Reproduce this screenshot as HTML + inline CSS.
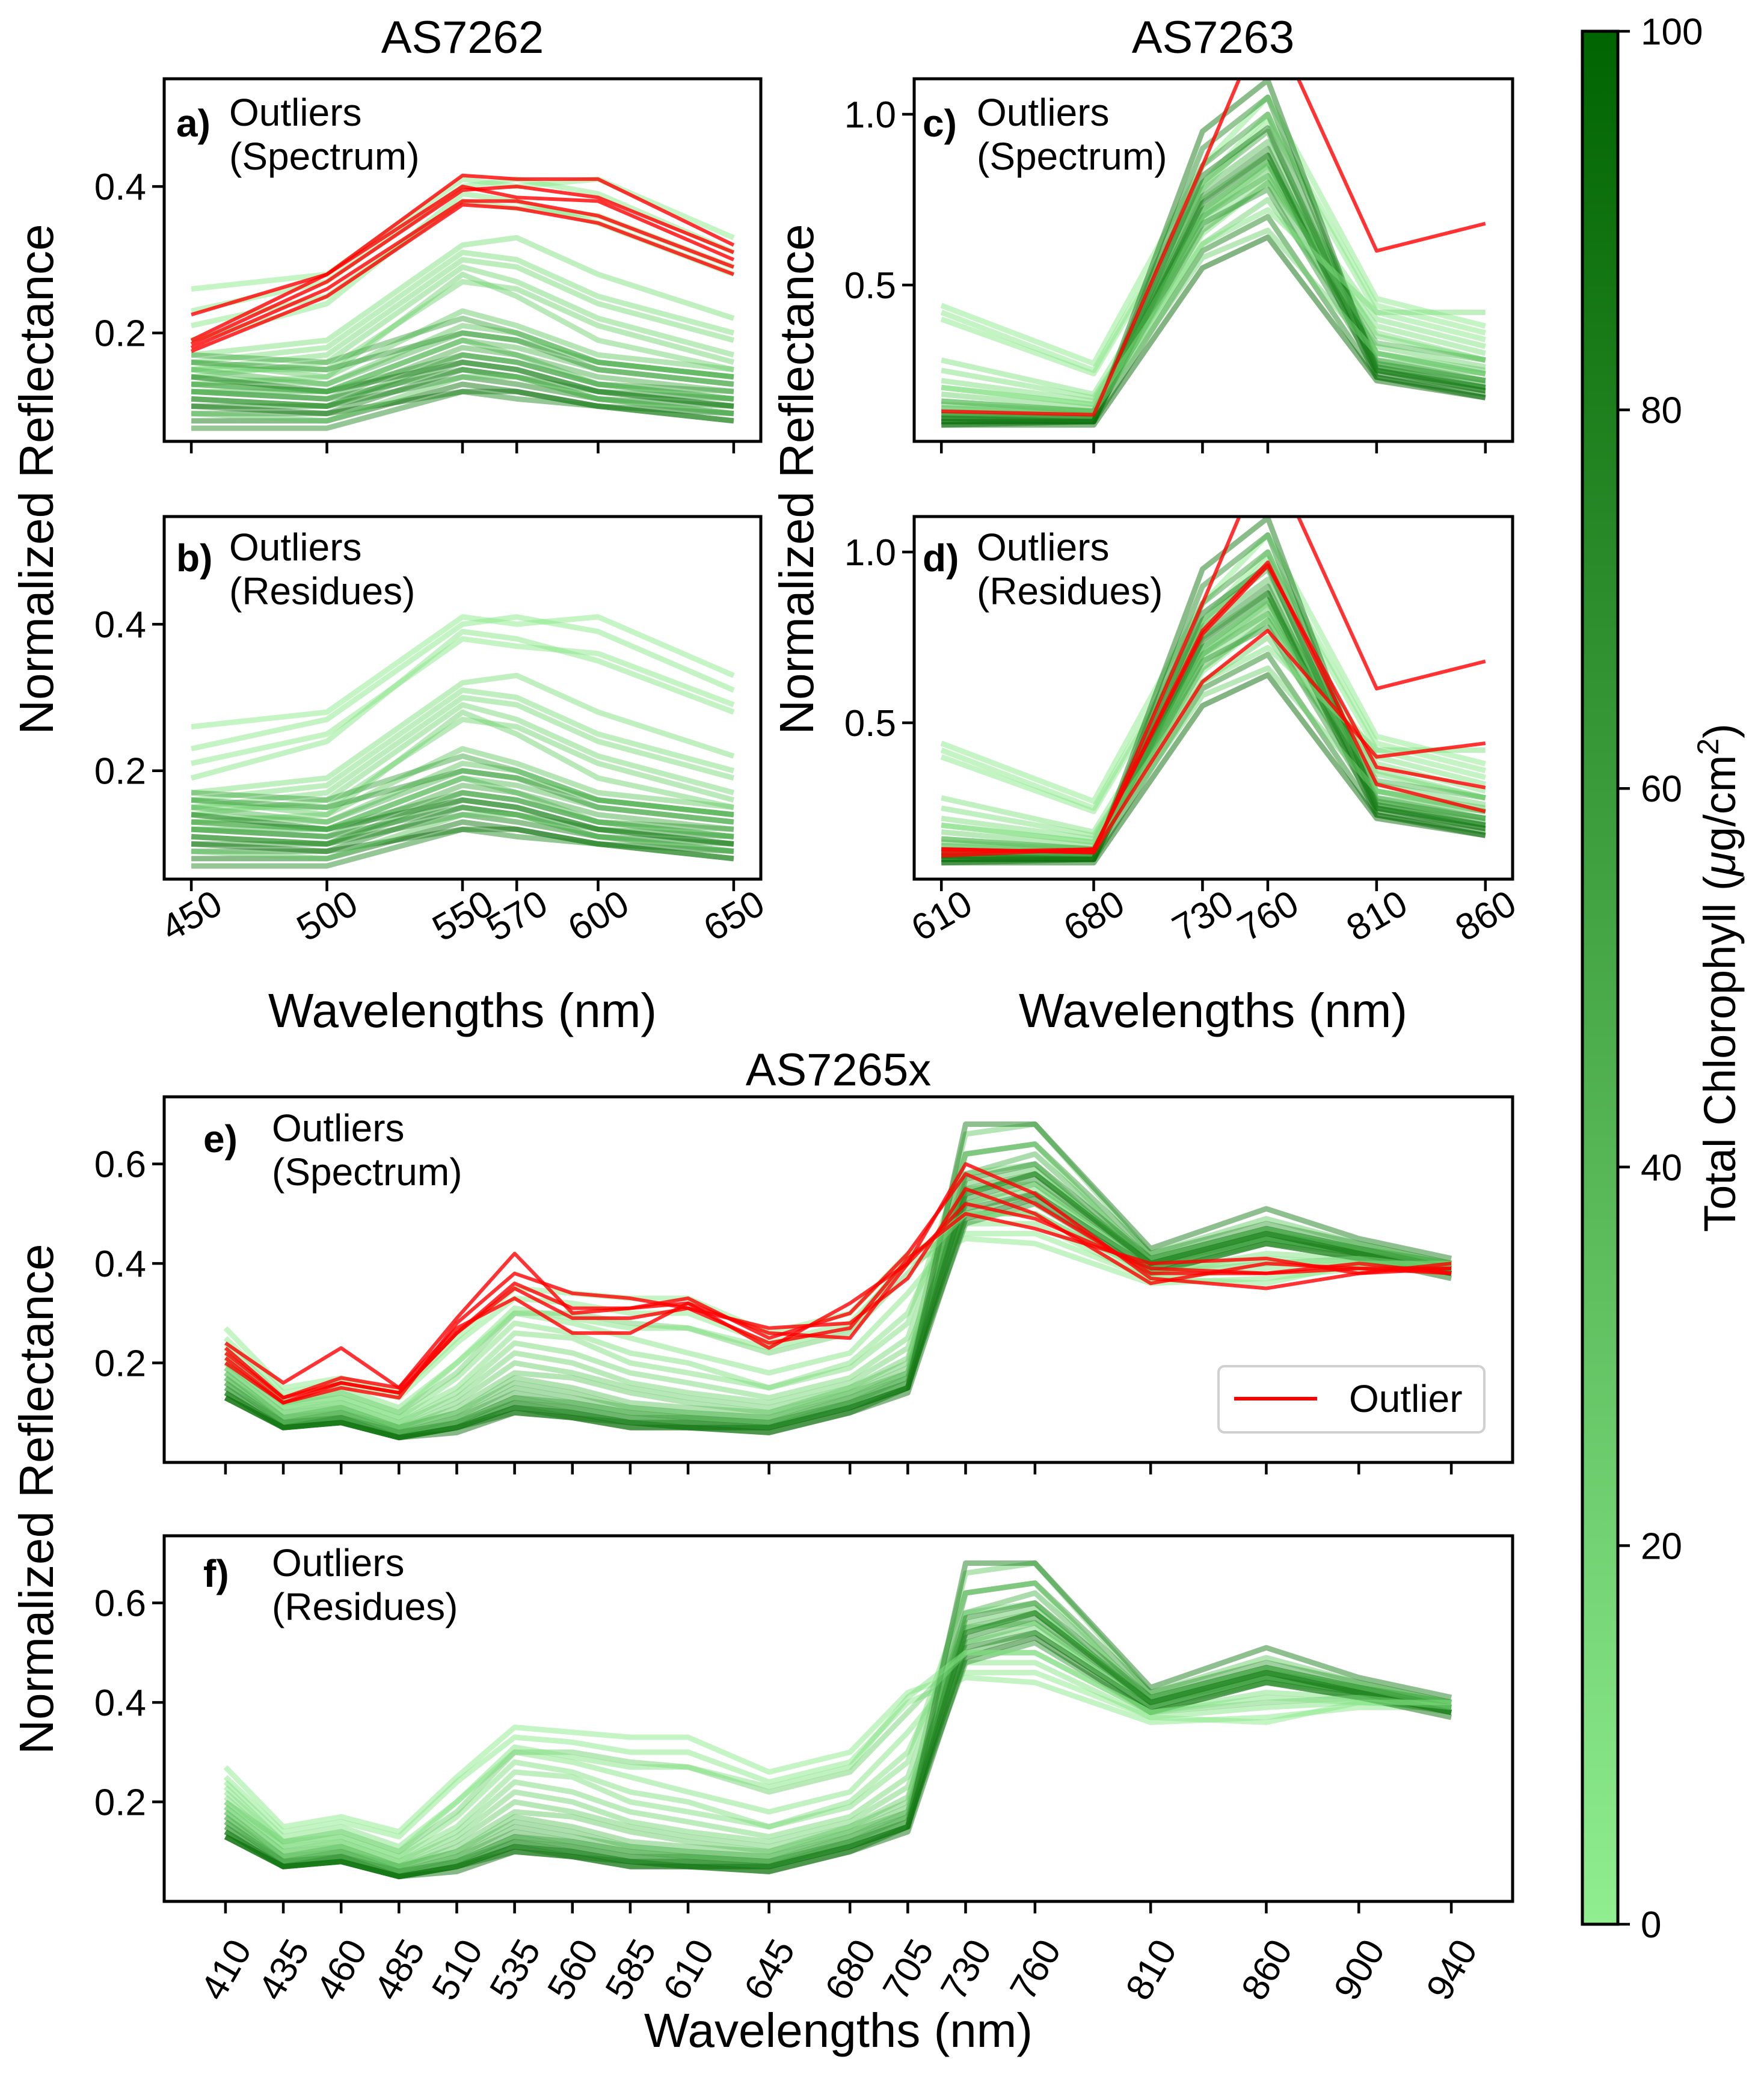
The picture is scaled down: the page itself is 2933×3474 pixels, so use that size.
<!DOCTYPE html>
<html><head><meta charset="utf-8">
<style>
html,body{margin:0;padding:0;background:#fff;}
svg{display:block;font-family:"Liberation Sans",Arial,sans-serif;}
</style></head>
<body>
<svg id="fig" width="2933" height="3474" viewBox="0 0 2933 3474" xmlns="http://www.w3.org/2000/svg">
<defs>
<linearGradient id="cbgrad" x1="0" y1="1" x2="0" y2="0">
<stop offset="0" stop-color="#90ee90"/><stop offset="1" stop-color="#006400"/>
</linearGradient>
</defs>
</svg>
<script>
// ---------- DATA ----------
const wl7262 = [450,500,550,570,600,650];
const wl7263 = [610,680,730,760,810,860];
const wl7265 = [410,435,460,485,510,535,560,585,610,645,680,705,730,760,810,860,900,940];

const chl7262 = [3,4,5,6,10,12,14,16,18,20,25,30,35,40,45,50,55,60,65,70,75,80,85,90,60,50,40,30,70];
const spec7262 = [
[0.26,0.28,0.41,0.40,0.41,0.33],[0.23,0.27,0.40,0.41,0.39,0.31],[0.21,0.25,0.38,0.37,0.36,0.29],
[0.19,0.24,0.39,0.38,0.35,0.28],[0.17,0.19,0.32,0.33,0.28,0.22],[0.16,0.18,0.31,0.30,0.25,0.20],
[0.15,0.17,0.30,0.29,0.24,0.19],[0.14,0.16,0.29,0.27,0.22,0.17],[0.15,0.15,0.27,0.26,0.21,0.16],
[0.13,0.14,0.28,0.25,0.19,0.15],[0.16,0.14,0.23,0.21,0.17,0.15],[0.14,0.13,0.21,0.20,0.16,0.14],
[0.13,0.12,0.19,0.18,0.15,0.13],[0.15,0.13,0.20,0.19,0.16,0.14],[0.12,0.11,0.18,0.17,0.14,0.12],
[0.11,0.10,0.17,0.16,0.13,0.11],[0.13,0.12,0.17,0.16,0.13,0.12],[0.10,0.10,0.16,0.15,0.12,0.10],
[0.12,0.11,0.15,0.14,0.12,0.11],[0.09,0.09,0.15,0.14,0.11,0.10],[0.11,0.10,0.14,0.13,0.11,0.09],
[0.14,0.12,0.16,0.15,0.12,0.10],[0.08,0.08,0.13,0.12,0.10,0.09],[0.10,0.09,0.12,0.12,0.10,0.08],
[0.16,0.15,0.20,0.19,0.15,0.13],[0.17,0.16,0.22,0.20,0.16,0.14],[0.12,0.12,0.19,0.17,0.13,0.11],
[0.09,0.08,0.14,0.14,0.11,0.09],[0.07,0.07,0.12,0.11,0.10,0.08]];
const out7262Spectrum = [
[0.225,0.28,0.415,0.41,0.41,0.32],[0.19,0.28,0.40,0.385,0.38,0.30],[0.18,0.26,0.38,0.38,0.36,0.29],
[0.175,0.25,0.375,0.37,0.35,0.28],[0.185,0.27,0.395,0.40,0.385,0.31]];
const out7262Residues = [];

const chl7263 = [3,4,5,8,10,12,15,20,25,30,35,40,45,50,55,60,65,70,75,80,85,90,95,20,40,10];
const spec7263 = [
[0.44,0.27,0.85,1.05,0.46,0.38],[0.42,0.25,0.80,1.00,0.44,0.36],[0.40,0.24,0.78,0.98,0.42,0.34],
[0.28,0.18,0.70,0.85,0.40,0.32],[0.25,0.17,0.65,0.80,0.38,0.30],[0.22,0.16,0.68,0.82,0.36,0.28],
[0.20,0.15,0.72,0.86,0.35,0.28],[0.18,0.14,0.62,0.75,0.32,0.26],[0.16,0.13,0.75,0.88,0.30,0.25],
[0.15,0.13,0.70,0.84,0.28,0.24],[0.14,0.12,0.78,0.92,0.30,0.24],[0.13,0.12,0.66,0.80,0.27,0.22],
[0.12,0.11,0.80,0.95,0.28,0.22],[0.12,0.11,0.72,0.86,0.26,0.21],[0.11,0.11,0.85,1.00,0.27,0.22],
[0.12,0.11,0.68,0.78,0.25,0.20],[0.10,0.10,0.76,0.90,0.25,0.20],[0.11,0.10,0.90,1.05,0.26,0.20],
[0.10,0.10,0.60,0.70,0.23,0.18],[0.11,0.10,0.82,0.96,0.24,0.19],[0.09,0.10,0.95,1.10,0.25,0.19],
[0.10,0.10,0.74,0.88,0.23,0.17],[0.09,0.09,0.55,0.64,0.22,0.17],[0.14,0.13,0.58,0.66,0.30,0.24],
[0.16,0.13,0.70,0.82,0.33,0.28],[0.20,0.15,0.62,0.72,0.42,0.42]];
const out7263Spectrum = [[0.13,0.12,0.85,1.30,0.60,0.68]];
const out7263Residues = [[0.13,0.12,0.85,1.30,0.60,0.68],[0.11,0.13,0.77,0.97,0.32,0.24],
[0.13,0.12,0.62,0.77,0.40,0.44],[0.12,0.13,0.76,0.96,0.37,0.31]];

const chl7265 = [3,5,7,10,12,15,18,22,26,30,35,40,45,50,55,60,65,70,75,80,85,90,20,8];
const spec7265 = [
[0.27,0.15,0.17,0.14,0.25,0.35,0.34,0.33,0.33,0.26,0.30,0.42,0.46,0.46,0.37,0.36,0.40,0.40],
[0.25,0.14,0.16,0.13,0.24,0.33,0.32,0.30,0.30,0.24,0.28,0.40,0.45,0.44,0.36,0.37,0.39,0.39],
[0.23,0.12,0.14,0.10,0.20,0.30,0.28,0.25,0.22,0.18,0.22,0.34,0.48,0.48,0.37,0.39,0.40,0.39],
[0.22,0.12,0.13,0.09,0.17,0.28,0.26,0.22,0.20,0.15,0.20,0.30,0.55,0.56,0.38,0.42,0.41,0.39],
[0.21,0.11,0.13,0.09,0.15,0.26,0.25,0.20,0.18,0.15,0.19,0.28,0.62,0.64,0.40,0.45,0.42,0.40],
[0.20,0.11,0.12,0.08,0.14,0.24,0.22,0.18,0.16,0.13,0.17,0.25,0.58,0.60,0.39,0.44,0.42,0.39],
[0.19,0.10,0.12,0.08,0.13,0.22,0.20,0.16,0.14,0.12,0.16,0.23,0.52,0.55,0.40,0.46,0.43,0.40],
[0.19,0.10,0.11,0.07,0.12,0.20,0.18,0.15,0.13,0.11,0.15,0.21,0.54,0.58,0.41,0.47,0.43,0.40],
[0.18,0.09,0.11,0.07,0.11,0.18,0.17,0.14,0.12,0.10,0.15,0.20,0.66,0.68,0.42,0.49,0.44,0.40],
[0.18,0.09,0.11,0.07,0.10,0.17,0.15,0.12,0.11,0.10,0.14,0.19,0.56,0.59,0.40,0.45,0.42,0.39],
[0.17,0.09,0.10,0.07,0.10,0.16,0.14,0.11,0.10,0.09,0.14,0.18,0.52,0.56,0.40,0.46,0.43,0.39],
[0.17,0.08,0.10,0.06,0.09,0.15,0.13,0.11,0.10,0.09,0.13,0.18,0.58,0.62,0.41,0.47,0.43,0.40],
[0.16,0.08,0.10,0.06,0.09,0.14,0.12,0.10,0.09,0.08,0.13,0.17,0.50,0.54,0.39,0.45,0.42,0.38],
[0.16,0.08,0.09,0.06,0.08,0.13,0.12,0.10,0.09,0.08,0.12,0.17,0.55,0.58,0.40,0.46,0.42,0.39],
[0.15,0.08,0.09,0.06,0.08,0.13,0.11,0.09,0.09,0.08,0.12,0.16,0.62,0.64,0.42,0.48,0.44,0.40],
[0.15,0.07,0.09,0.05,0.08,0.12,0.11,0.09,0.08,0.07,0.12,0.16,0.48,0.52,0.38,0.44,0.41,0.38],
[0.14,0.07,0.09,0.05,0.07,0.12,0.10,0.08,0.08,0.07,0.11,0.15,0.53,0.57,0.40,0.46,0.42,0.38],
[0.14,0.07,0.08,0.05,0.07,0.11,0.10,0.08,0.08,0.07,0.11,0.15,0.57,0.60,0.41,0.47,0.43,0.39],
[0.14,0.07,0.08,0.05,0.07,0.11,0.10,0.08,0.07,0.07,0.11,0.15,0.51,0.54,0.39,0.45,0.42,0.38],
[0.13,0.07,0.08,0.05,0.07,0.11,0.09,0.08,0.07,0.07,0.11,0.15,0.68,0.68,0.43,0.51,0.45,0.41],
[0.13,0.07,0.08,0.05,0.07,0.10,0.09,0.07,0.07,0.06,0.10,0.15,0.54,0.58,0.40,0.46,0.42,0.38],
[0.13,0.07,0.08,0.05,0.06,0.10,0.09,0.07,0.07,0.06,0.10,0.14,0.49,0.53,0.38,0.44,0.41,0.37],
[0.20,0.12,0.14,0.10,0.18,0.30,0.30,0.28,0.27,0.22,0.26,0.38,0.50,0.50,0.38,0.40,0.41,0.39],
[0.24,0.13,0.15,0.11,0.20,0.31,0.29,0.27,0.27,0.23,0.27,0.41,0.50,0.50,0.38,0.41,0.40,0.40]];
const out7265Spectrum = [
[0.23,0.13,0.16,0.14,0.26,0.36,0.31,0.31,0.33,0.25,0.30,0.42,0.58,0.52,0.38,0.38,0.39,0.39],
[0.24,0.16,0.23,0.15,0.29,0.42,0.30,0.31,0.32,0.23,0.32,0.40,0.60,0.54,0.37,0.35,0.38,0.40],
[0.21,0.12,0.15,0.13,0.28,0.38,0.34,0.33,0.31,0.27,0.28,0.37,0.55,0.50,0.36,0.40,0.39,0.38],
[0.22,0.13,0.17,0.15,0.27,0.33,0.26,0.26,0.32,0.26,0.25,0.40,0.52,0.49,0.39,0.38,0.40,0.38],
[0.20,0.12,0.16,0.14,0.26,0.35,0.29,0.29,0.31,0.24,0.27,0.41,0.50,0.47,0.40,0.41,0.38,0.39]];
const out7265Residues = [];

const yt7262 = [0.2,0.4];
const yt7263 = [0.5,1.0];
const yt7265 = [0.2,0.4,0.6];
const cbTicks = [0,20,40,60,80,100];

// ---------- DRAWING ----------
const NS="http://www.w3.org/2000/svg";
const svg=document.getElementById('fig');
function mk(tag,attrs,parent){const e=document.createElementNS(NS,tag);for(const k in attrs)e.setAttribute(k,attrs[k]);(parent||svg).appendChild(e);return e;}
function cmap(v){const t=Math.max(0,Math.min(1,v/100));const a=[0x90,0xee,0x90],b=[0x00,0x64,0x00];
 return 'rgb('+a.map((c,i)=>Math.round(c+(b[i]-c)*t)).join(',')+')';}
function fmt(v){return v.toFixed(1);}
const TICKFS=62, ANNFS=64;

function panel(o){
 const g=mk('g',{});
 
 
 const sx=w=>o.x0+(w-o.xmin)/(o.xmax-o.xmin)*(o.x1-o.x0);
 const sy=v=>o.y1-(v-o.ymin)/(o.ymax-o.ymin)*(o.y1-o.y0);
 const cid='clip-'+o.name;
 const cp=mk('clipPath',{id:cid},g);mk('rect',{x:o.x0,y:o.y0,width:o.x1-o.x0,height:o.y1-o.y0},cp);
 const lines=mk('g',{'clip-path':'url(#'+cid+')'},g);
 o.spec.forEach((s,i)=>{
  const p=mk('polyline',{points:s.map((v,j)=>sx(o.wl[j])+','+sy(v)).join(' '),fill:'none',stroke:cmap(o.chl[i]),'stroke-opacity':0.5,'stroke-width':9,'stroke-linejoin':'round'},lines);
  
  
 });
 o.out.forEach(s=>{
  const p=mk('polyline',{points:s.map((v,j)=>sx(o.wl[j])+','+sy(v)).join(' '),fill:'none',stroke:'#ff0000','stroke-opacity':0.8,'stroke-width':6,'stroke-linejoin':'round'},lines);
  
  
 });
 const fr=mk('rect',{x:o.x0,y:o.y0,width:o.x1-o.x0,height:o.y1-o.y0,fill:'none',stroke:'#000','stroke-width':5},g);
 
 
 o.yt.forEach(v=>{
  mk('line',{x1:o.x0-20,x2:o.x0,y1:sy(v),y2:sy(v),stroke:'#000','stroke-width':4.5},g);
  const t=mk('text',{x:o.x0-30,y:sy(v)+22,'font-size':TICKFS,'text-anchor':'end'},g);t.textContent=fmt(v);
  
  
 });
 o.wl.forEach(w=>{
  mk('line',{x1:sx(w),x2:sx(w),y1:o.y1,y2:o.y1+20,stroke:'#000','stroke-width':4.5},g);
  if(o.labels){
   const ly=o.y1+o.lyOff;
   const t=mk('text',{x:sx(w),y:ly+22,'font-size':TICKFS,'text-anchor':'middle',transform:'rotate('+(-o.rot)+' '+sx(w)+' '+ly+')'},g);
   t.textContent=w;
   
   
  }
 });
 const a=mk('text',{x:o.lx,y:o.ly+42,'font-size':ANNFS,'font-weight':'bold'},g);a.textContent=o.letter+')';
 
 
 const t1=mk('text',{x:o.tx,y:o.ly+24,'font-size':ANNFS},g);t1.textContent='Outliers';
 
 
 const t2=mk('text',{x:o.tx,y:o.ly+97,'font-size':ANNFS},g);t2.textContent=o.sub;
 
 
 return {sx,sy,g};
}

const A={xmin:440,xmax:660,x0:273,x1:1265,ymin:0.052,ymax:0.547,wl:wl7262,chl:chl7262,spec:spec7262,yt:yt7262,lx:293,tx:381,rot:30,lyOff:60};
panel(Object.assign({},A,{name:'panel-a',y0:131,y1:734,out:out7262Spectrum,letter:'a',sub:'(Spectrum)',ly:185,labels:false}));
panel(Object.assign({},A,{name:'panel-b',y0:859,y1:1462,out:out7262Residues,letter:'b',sub:'(Residues)',ly:908,labels:true}));
const C={xmin:597.5,xmax:872.5,x0:1520,x1:2515,ymin:0.042,ymax:1.104,wl:wl7263,chl:chl7263,spec:spec7263,yt:yt7263,lx:1534,tx:1624,rot:30,lyOff:60};
panel(Object.assign({},C,{name:'panel-c',y0:131,y1:734,out:out7263Spectrum,letter:'c',sub:'(Spectrum)',ly:185,labels:false}));
panel(Object.assign({},C,{name:'panel-d',y0:859,y1:1462,out:out7263Residues,letter:'d',sub:'(Residues)',ly:908,labels:true}));
const E={xmin:383.5,xmax:966.5,x0:273,x1:2515,ymin:0.0,ymax:0.735,wl:wl7265,chl:chl7265,spec:spec7265,yt:yt7265,lx:338,tx:452,rot:60,lyOff:113};
panel(Object.assign({},E,{name:'panel-e',y0:1824,y1:2432,out:out7265Spectrum,letter:'e',sub:'(Spectrum)',ly:1874,labels:false}));
panel(Object.assign({},E,{name:'panel-f',y0:2554,y1:3162,out:out7265Residues,letter:'f',sub:'(Residues)',ly:2597,labels:true}));

// legend
const lg=mk('g',{});


mk('rect',{x:2026,y:2272,width:442,height:110,rx:10,fill:'#fff','fill-opacity':0.8,stroke:'#d0d0d0','stroke-width':4},lg);
mk('line',{x1:2052,x2:2190,y1:2326,y2:2326,stroke:'#ff0000','stroke-width':6},lg);
const lt=mk('text',{x:2243,y:2348,'font-size':ANNFS},lg);lt.textContent='Outlier';



// titles & axis labels
function txt(s,x,y,fs,name,rot,anchor){const t=mk('text',{x:x,y:y,'font-size':fs,'text-anchor':anchor||'middle'});
 if(rot)t.setAttribute('transform','rotate('+rot+' '+x+' '+y+')');t.textContent=s;
 
 return t;}
txt('AS7262',769,88,76,'title-as7262');
txt('AS7263',2017,88,76,'title-as7263');
txt('AS7265x',1394,1805,76,'title-as7265x');
txt('Normalized Reflectance',88,797,80,'y-axis-title-as7262',-90);
txt('Normalized Reflectance',1352,797,80,'y-axis-title-as7263',-90);
txt('Normalized Reflectance',88,2493,80,'y-axis-title-as7265x',-90);
txt('Wavelengths (nm)',769,1708,80,'x-axis-title-as7262');
txt('Wavelengths (nm)',2017,1708,80,'x-axis-title-as7263');
txt('Wavelengths (nm)',1394,3404,80,'x-axis-title-as7265x');

// colorbar
const cb=mk('g',{});


const cbY0=52,cbY1=3200,cbX0=2631,cbX1=2690;
mk('rect',{x:cbX0,y:cbY0,width:cbX1-cbX0,height:cbY1-cbY0,fill:'url(#cbgrad)',stroke:'#000','stroke-width':5},cb);
const cy=v=>cbY1-v/100*(cbY1-cbY0);
cbTicks.forEach(v=>{
 mk('line',{x1:cbX1,x2:cbX1+20,y1:cy(v),y2:cy(v),stroke:'#000','stroke-width':4.5},cb);
 const t=mk('text',{x:cbX1+38,y:cy(v)+22,'font-size':TICKFS},cb);t.textContent=v;
 
 
});
const ct=mk('text',{x:2885,y:1626,'font-size':74,'text-anchor':'middle',transform:'rotate(-90 2885 1626)'},cb);
ct.innerHTML='Total Chlorophyll (<tspan font-style="italic">μ</tspan>g/cm<tspan baseline-shift="super" font-size="50">2</tspan>)';


</script>
</body></html>
